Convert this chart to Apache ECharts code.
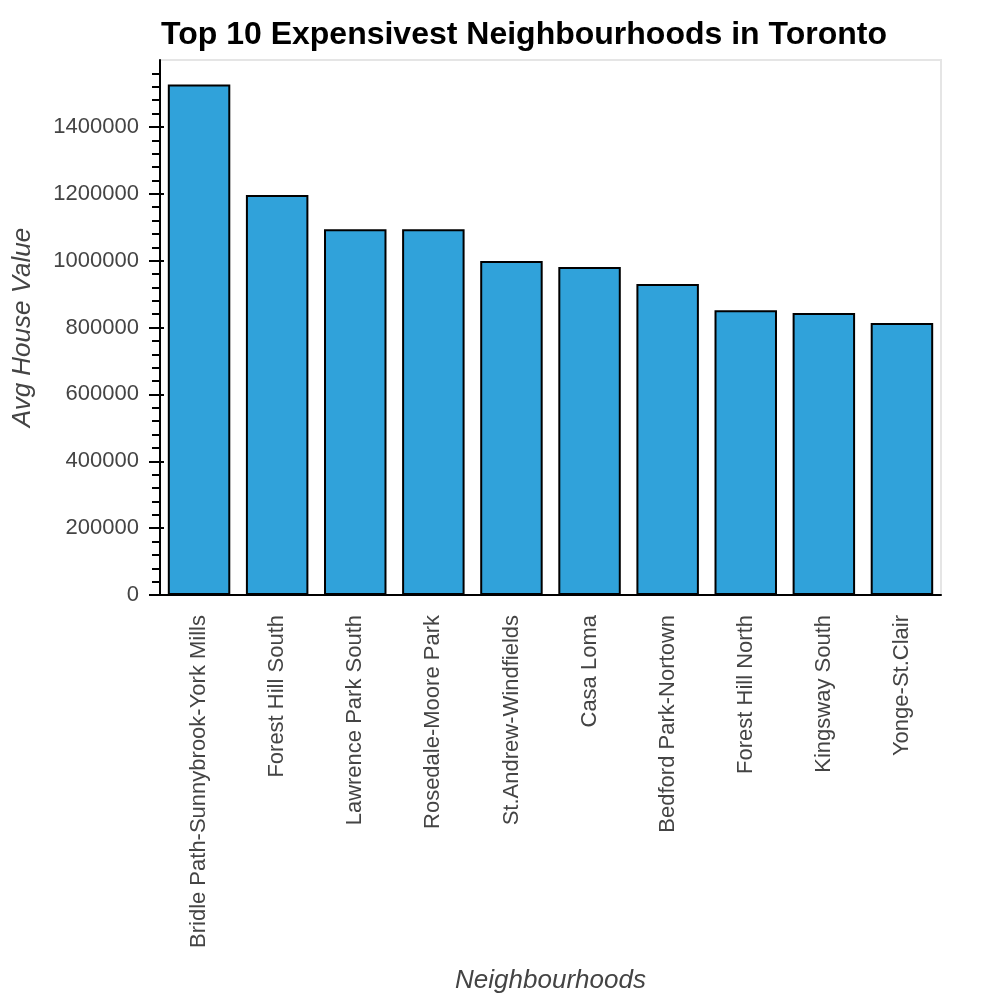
<!DOCTYPE html>
<html>
<head>
<meta charset="utf-8">
<script src="https://cdn.jsdelivr.net/npm/echarts@6/dist/echarts.min.js"></script>
<style>
  html, body { margin: 0; padding: 0; background: #fff; }
  #chart { width: 1000px; height: 1000px; }
</style>
</head>
<body>
<div id="chart"></div>
<script>
// neighbourhoods and their average house values
const neighbourhoods = [
  "Bridle Path-Sunnybrook-York Mills", "Forest Hill South", "Lawrence Park South",
  "Rosedale-Moore Park", "St.Andrew-Windfields", "Casa Loma",
  "Bedford Park-Nortown", "Forest Hill North", "Kingsway South", "Yonge-St.Clair"
];
const avgHouseValue = [
  1526486, 1195993, 1094028, 1093640, 999107,
  981064, 930415, 851681, 843234, 813220
];
// labelled ticks on the value axis (no tick at the top edge)
const yTicks = [0, 200000, 400000, 600000, 800000, 1000000, 1200000, 1400000];

const font = "Liberation Sans, Arial, Helvetica, sans-serif";
const chart = echarts.init(document.getElementById("chart"));

const option = {
  backgroundColor: "#fff",
  animation: false,
  title: {
    text: "Top 10 Expensivest Neighbourhoods in Toronto",
    left: 156,
    top: 14,
    textStyle: { fontFamily: font, fontSize: 32, fontWeight: "bold", color: "#000" }
  },
  grid: {
    left: 160, right: 59, top: 60, bottom: 405,
    show: true, borderColor: "#e5e5e5", borderWidth: 2
  },
  xAxis: [
    {
      type: "category",
      data: neighbourhoods,
      name: "Neighbourhoods",
      nameLocation: "middle",
      nameGap: 373,
      nameTextStyle: { fontFamily: font, fontSize: 26, fontStyle: "italic", color: "#444" },
      axisLine: { lineStyle: { color: "#000", width: 2 } },
      axisTick: { alignWithLabel: true, length: 12, lineStyle: { color: "#000", width: 2 } },
      axisLabel: { rotate: 90, margin: 20, fontFamily: font, fontSize: 22, color: "#444" },
      splitLine: { show: false }
    },
    {
      // inner part of the ticks
      type: "category",
      data: neighbourhoods,
      position: "bottom",
      axisLine: { show: false },
      axisTick: { inside: true, alignWithLabel: true, length: 4, lineStyle: { color: "#000", width: 2 } },
      axisLabel: { show: false }
    }
  ],
  yAxis: [
    {
      type: "value",
      min: 0,
      max: 1600000,
      interval: 200000,
      name: "Avg House Value",
      nameLocation: "middle",
      nameGap: 124,
      nameTextStyle: { fontFamily: font, fontSize: 26, fontStyle: "italic", color: "#444" },
      axisLine: { show: true, lineStyle: { color: "#000", width: 2 } },
      axisTick: { show: true, length: 11, customValues: yTicks, lineStyle: { color: "#000", width: 2 } },
      minorTick: { show: true, splitNumber: 5, length: 8, lineStyle: { color: "#000", width: 2 } },
      axisLabel: {
        margin: 21, customValues: yTicks, fontFamily: font, fontSize: 22, color: "#444",
        formatter: (v) => String(v)
      },
      splitLine: { show: false }
    },
    {
      type: "value",
      min: 0,
      max: 1600000,
      interval: 200000,
      position: "left",
      axisLine: { show: false },
      axisTick: { show: true, inside: true, length: 4, customValues: yTicks, lineStyle: { color: "#000", width: 2 } },
      axisLabel: { show: false },
      splitLine: { show: false }
    }
  ],
  series: [
    {
      type: "bar",
      data: avgHouseValue,
      barWidth: "80%",
      itemStyle: { color: "#30a2da", borderColor: "#000", borderWidth: 2 }
    }
  ]
};

chart.setOption(option);
</script>
</body>
</html>
